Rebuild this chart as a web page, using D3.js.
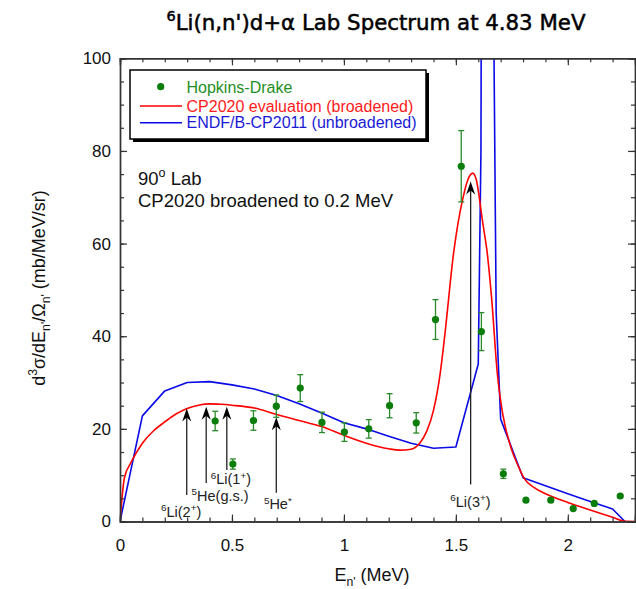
<!DOCTYPE html>
<html>
<head>
<meta charset="utf-8">
<script src="https://cdn.jsdelivr.net/npm/d3@7"></script>
<style>
  html, body { margin: 0; padding: 0; background: #fff; }
  svg { display: block; }
  text { font-family: "Liberation Sans", Arial, Helvetica, sans-serif; }
</style>
</head>
<body>
<svg id="chart" width="636" height="589"></svg>
<script>
// Hopkins-Drake measurement, 90 deg lab
const hdEnergy = [0.425, 0.504, 0.596, 0.698, 0.805, 0.902, 1.002, 1.111, 1.204, 1.323, 1.409, 1.524, 1.614, 1.712, 1.813, 1.924, 2.024, 2.118, 2.234];
const hdValue  = [21.7, 12.4, 21.8, 24.9, 28.8, 21.4, 19.3, 20.0, 25.0, 21.3, 43.6, 76.7, 41.0, 10.3, 4.6, 4.6, 2.8, 3.9, 5.5];
const hdError  = [2.1, 1.1, 2.1, 2.4, 2.9, 2.2, 2.0, 2.0, 2.6, 2.2, 4.3, 7.7, 4.1, 1.0, 0.3, 0.3, 0.3, 0.3, 0.3];

// CP2020 evaluation, broadened to 0.2 MeV
const cpEnergy = [0, 0.02, 0.05, 0.1, 0.15, 0.2, 0.25, 0.3, 0.35, 0.4, 0.45, 0.5, 0.6, 0.7, 0.8, 0.9, 1.0, 1.1, 1.2, 1.25, 1.3, 1.34, 1.37, 1.4, 1.43, 1.45, 1.49, 1.53, 1.56, 1.575, 1.59, 1.62, 1.64, 1.66, 1.685, 1.71, 1.745, 1.78, 1.805, 1.85, 1.9, 2.0, 2.1, 2.2, 2.25, 2.3];
const cpValue  = [0, 9.5, 12.8, 16.9, 19.6, 21.5, 23.2, 24.4, 25.1, 25.4, 25.3, 25.1, 24.5, 23.1, 21.8, 20.5, 18.6, 16.9, 15.7, 15.4, 15.6, 17.0, 19.5, 24.0, 32.0, 40.0, 58.0, 69.5, 74.5, 75.2, 74.0, 64.5, 58.0, 48.0, 32.0, 23.0, 16.1, 11.8, 9.3, 7.3, 6.0, 4.1, 2.5, 0.9, 0.1, 0];

// ENDF/B-CP2011, unbroadened
const endfEnergy = [0, 0.1, 0.2, 0.3, 0.4, 0.5, 0.6, 0.7, 0.8, 0.9, 1.0, 1.1, 1.2, 1.3, 1.4, 1.5, 1.6, 1.612, 1.62, 1.66, 1.68, 1.7, 1.8, 1.9, 2.0, 2.1, 2.2, 2.255];
const endfValue  = [0, 22.8, 28.2, 30.0, 30.2, 29.5, 28.6, 27.2, 25.4, 23.4, 21.3, 20.0, 18.4, 16.9, 15.8, 16.1, 34.0, 80.0, 250, 160, 45.0, 22.1, 9.45, 7.7, 6.0, 4.3, 2.7, 0];

// level markers: energy, arrow tip value, arrow tail value, label placement and parts
const levelEnergy = [0.298, 0.385, 0.477, 0.698, 1.566];
const levelTip    = [24.4, 24.8, 24.8, 22.5, 73.4];
const levelTail   = [5.7, 8.3, 11.1, 6.2, 8.0];
const levelLabelEnergy = [0.273, 0.447, 0.495, 0.705, 1.565];
const levelLabelValue  = [1.05, 4.5, 8.0, 2.6, 3.2];
const levelLabel  = [
  [["6", "sup"], ["Li(2"], ["+", "sup"], [")"]],
  [["5", "sup"], ["He(g.s.)"]],
  [["6", "sup"], ["Li(1"], ["+", "sup"], [")"]],
  [["5", "sup"], ["He"], ["*", "sup"]],
  [["6", "sup"], ["Li(3"], ["+", "sup"], [")"]]
];

const xMajorTicks = [0, 0.5, 1, 1.5, 2];
const yMajorTicks = [0, 20, 40, 60, 80, 100];

const W = 636, H = 589;
const plot = { left: 120, right: 635, top: 58.3, bottom: 521.5 };

const svg = d3.select("#chart");
svg.append("rect").attr("width", W).attr("height", H).attr("fill", "#fff");

const x = d3.scaleLinear().domain([0, 2.3]).range([plot.left, plot.right]);
const y = d3.scaleLinear().domain([0, 100]).range([plot.bottom, plot.top]);

svg.append("clipPath").attr("id", "plot-clip")
  .append("rect")
  .attr("x", plot.left).attr("y", plot.top)
  .attr("width", plot.right - plot.left).attr("height", plot.bottom - plot.top);

// writes a run of text pieces, raising "sup" pieces and lowering "sub" pieces
function richText(sel, parts, size, supRaise = 0.42) {
  let shift = 0;
  parts.forEach(([t, kind]) => {
    const target = kind === "sup" ? -supRaise * size : kind === "sub" ? 0.3 * size : 0;
    sel.append("tspan")
      .attr("dy", target - shift)
      .attr("font-size", kind ? size * 0.68 : size)
      .text(t);
    shift = target;
  });
}

// title
const title = svg.append("text")
  .attr("x", 376).attr("y", 30)
  .attr("text-anchor", "middle")
  .style("font-family", "'DejaVu Sans', sans-serif")
  .attr("fill", "#000").attr("stroke", "#000").attr("stroke-width", 0.5);
richText(title, [["6", "sup"], ["Li(n,n')d+\u03b1 Lab Spectrum at 4.83 MeV"]], 21.3);

// curves
const line = d3.line().x(d => x(d[0])).y(d => y(d[1]));
const cpData = cpEnergy.map((e, i) => [e, cpValue[i]]);
const endfData = endfEnergy.map((e, i) => [e, endfValue[i]]);

const curves = svg.append("g").attr("clip-path", "url(#plot-clip)");
curves.append("path")
  .datum(endfData)
  .attr("fill", "none").attr("stroke", "#0a0ae6").attr("stroke-width", 1.6)
  .attr("stroke-linejoin", "round")
  .attr("d", line);
curves.append("path")
  .datum(cpData)
  .attr("fill", "none").attr("stroke", "#ff0000").attr("stroke-width", 1.6)
  .attr("d", line.curve(d3.curveMonotoneX));

// level arrows
const arrows = svg.append("g");
levelEnergy.forEach((e, i) => {
  const ax = x(e), tip = y(levelTip[i]), tail = y(levelTail[i]);
  arrows.append("line")
    .attr("x1", ax).attr("x2", ax).attr("y1", tail).attr("y2", tip + 6)
    .attr("stroke", "#222").attr("stroke-width", 1.3);
  arrows.append("path")
    .attr("d", `M${ax},${tip} L${ax - 4.5},${tip + 13} L${ax},${tip + 9} L${ax + 4.5},${tip + 13} Z`)
    .attr("fill", "#000");
  const lbl = arrows.append("text")
    .attr("x", x(levelLabelEnergy[i]))
    .attr("y", y(levelLabelValue[i]))
    .attr("text-anchor", "middle")
    .attr("fill", "#222");
  richText(lbl, levelLabel[i], 14.5, 0.36);
});

// measured points with error bars
const pts = svg.append("g");
hdEnergy.forEach((e, i) => {
  const px = x(e), py = y(hdValue[i]);
  const lo = y(hdValue[i] - hdError[i]), hi = y(hdValue[i] + hdError[i]);
  const bar = pts.append("g").attr("stroke", "#2a8a2a").attr("stroke-width", 1.3);
  bar.append("line").attr("x1", px).attr("x2", px).attr("y1", lo).attr("y2", hi);
  bar.append("line").attr("x1", px - 3).attr("x2", px + 3).attr("y1", lo).attr("y2", lo);
  bar.append("line").attr("x1", px - 3).attr("x2", px + 3).attr("y1", hi).attr("y2", hi);
  pts.append("circle").attr("cx", px).attr("cy", py).attr("r", 3.6).attr("fill", "#0a7d0a");
});

// axes, ticks pointing inward on all four sides
function styleAxis(g) {
  g.select(".domain").attr("stroke", "#333").attr("stroke-width", 1.4);
  g.selectAll(".tick line").attr("stroke", "#333").attr("stroke-width", 1.2);
  g.selectAll(".tick text").attr("fill", "#111").attr("font-size", 17)
    .style("font-family", "'Liberation Sans', Arial, sans-serif");
}
const xMinor = d3.range(0, 2.31, 0.1);
const yMinor = d3.range(0, 100.1, 5);

svg.append("g").attr("transform", `translate(0,${plot.bottom})`)
  .call(d3.axisBottom(x).tickValues(xMinor).tickSize(-4).tickFormat(""))
  .call(styleAxis);
svg.append("g").attr("transform", `translate(0,${plot.bottom})`)
  .call(d3.axisBottom(x).tickValues(xMajorTicks).tickSize(-7).tickPadding(17).tickFormat(d3.format("")))
  .call(styleAxis);
svg.append("g").attr("transform", `translate(0,${plot.top})`)
  .call(d3.axisTop(x).tickValues(xMinor).tickSize(-4).tickFormat(""))
  .call(styleAxis);
svg.append("g").attr("transform", `translate(0,${plot.top})`)
  .call(d3.axisTop(x).tickValues(xMajorTicks).tickSize(-7).tickFormat(""))
  .call(styleAxis);
svg.append("g").attr("transform", `translate(${plot.left},0)`)
  .call(d3.axisLeft(y).tickValues(yMinor).tickSize(-4).tickFormat(""))
  .call(styleAxis);
svg.append("g").attr("transform", `translate(${plot.left},0)`)
  .call(d3.axisLeft(y).tickValues(yMajorTicks).tickSize(-7).tickPadding(9).tickFormat(d3.format("")))
  .call(styleAxis);
svg.append("g").attr("transform", `translate(${plot.right},0)`)
  .call(d3.axisRight(y).tickValues(yMinor).tickSize(-4).tickFormat(""))
  .call(styleAxis);
svg.append("g").attr("transform", `translate(${plot.right},0)`)
  .call(d3.axisRight(y).tickValues(yMajorTicks).tickSize(-7).tickFormat(""))
  .call(styleAxis);

// axis titles
const xTitle = svg.append("text")
  .attr("x", 372).attr("y", 581)
  .attr("text-anchor", "middle").attr("fill", "#111");
richText(xTitle, [["E"], ["n'", "sub"], [" (MeV)"]], 18);

const yTitle = svg.append("text")
  .attr("transform", "translate(45,288) rotate(-90)")
  .attr("text-anchor", "middle").attr("fill", "#111");
richText(yTitle, [["d"], ["3", "sup"], ["\u03c3/dE"], ["n'", "sub"], ["/\u03a9"], ["n'", "sub"], [" (mb/MeV/sr)"]], 18);

// legend box with drop shadow
const lg = svg.append("g");
lg.append("rect").attr("x", 133).attr("y", 73).attr("width", 296).attr("height", 69).attr("fill", "#000");
lg.append("rect").attr("x", 130).attr("y", 70).attr("width", 296).attr("height", 69)
  .attr("fill", "#fff").attr("stroke", "#000").attr("stroke-width", 1.5);
lg.append("circle").attr("cx", 160.7).attr("cy", 86.7).attr("r", 3.6).attr("fill", "#0a7d0a");
lg.append("text").attr("x", 186.5).attr("y", 92.5).attr("font-size", 16).attr("fill", "#1f8f1f").text("Hopkins-Drake");
lg.append("line").attr("x1", 140).attr("x2", 182).attr("y1", 106).attr("y2", 106).attr("stroke", "#ff0000").attr("stroke-width", 1.4);
lg.append("text").attr("x", 186.5).attr("y", 111.5).attr("font-size", 16).attr("fill", "#ff1a1a").text("CP2020 evaluation (broadened)");
lg.append("line").attr("x1", 140).attr("x2", 182).attr("y1", 122.7).attr("y2", 122.7).attr("stroke", "#0a0ae6").attr("stroke-width", 1.4);
lg.append("text").attr("x", 186.5).attr("y", 128).attr("font-size", 16).attr("fill", "#1a1ad6").text("ENDF/B-CP2011 (unbroadened)");

// run conditions
const note1 = svg.append("text").attr("x", 138).attr("y", 185).attr("fill", "#111");
richText(note1, [["90"], ["o", "sup"], [" Lab"]], 18.5);
svg.append("text").attr("x", 138).attr("y", 207).attr("font-size", 18.5).attr("fill", "#111")
  .text("CP2020 broadened to 0.2 MeV");
</script>
</body>
</html>
